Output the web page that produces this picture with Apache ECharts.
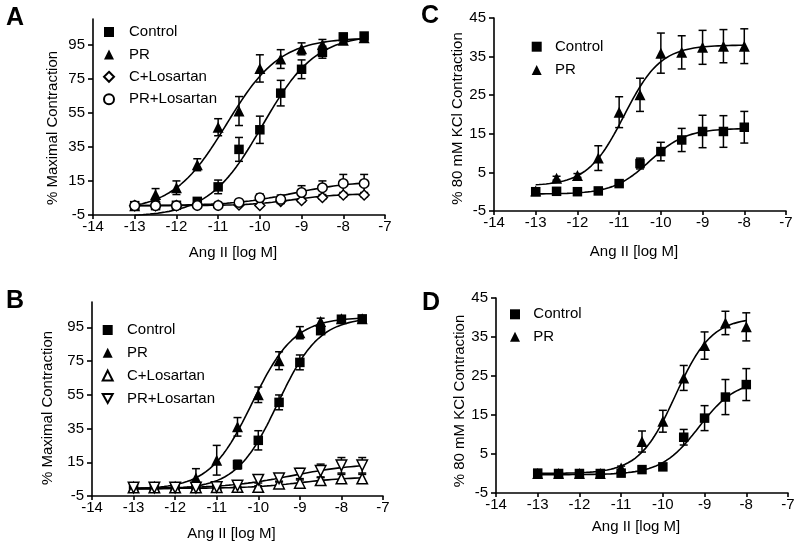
<!DOCTYPE html>
<html><head><meta charset="utf-8">
<script src="https://cdn.jsdelivr.net/npm/echarts@6/dist/echarts.min.js"></script>
<style>html,body{margin:0;padding:0;background:#fff}#c{width:800px;height:549px}</style>
</head><body><div id="c"></div>
<script>
// ---------- DATA ----------
const xAB = [-13,-12.5,-12,-11.5,-11,-10.5,-10,-9.5,-9,-8.5,-8,-7.5];
const xCD = [-13,-12.5,-12,-11.5,-11,-10.5,-10,-9.5,-9,-8.5,-8];
const xTicks = [-14,-13,-12,-11,-10,-9,-8,-7];
const yTicksAB = [-5,15,35,55,75,95];
const yTicksCD = [-5,5,15,25,35,45];

// Panel A
const A_control    = [0.5,0.5,0.7,3,11.5,33.5,45,66.5,80.5,90.5,99.5,100];
const A_controlErr = [0,0,0,1,4,7,8,7.5,5.5,3.5,2,0.5];
const A_pr         = [0.5,7,11,24.5,46.5,56,81,86.5,92.5,95,97.5,99];
const A_prErr      = [0,3.5,4,3.5,5,8.5,8,5.5,3.5,3,1.5,0.5];
const A_cLos       = [0.5,0.5,0.5,0.8,0.7,0.9,0.6,3,3.5,5.3,6.7,6.7];
const A_cLosErr    = [0,0,0,0,0,0,0.5,1,1,1,1,1];
const A_prLos      = [0.5,0.5,0.5,0.6,0.6,2.4,5.1,4.2,8.2,11,13.5,13.5];
const A_prLosErr   = [0,0,0,0,0,1,2.2,2.5,4,4,5.3,5.3];
// fitted curves [bottom, top, logEC50, hill]
const A_controlFit = [-6,101,-9.94,0.68];
const A_prFit      = [-2.5,99,-10.8,0.68];
const A_cLosFit    = [0.5,7.5,-9.2,0.8];
const A_prLosFit   = [0.5,15,-9.2,0.6];

// Panel B
const B_control    = [0,0,0,0,0.3,13.6,28,50.5,74.2,93,99.8,100];
const B_controlErr = [0,0,0,0,0.5,2.6,5.7,4.4,4.4,2,1,0.5];
const B_pr         = [0,0,0.2,5.7,16.2,36,55,75.2,91.8,98.4,100,100];
const B_prErr      = [0,0,0,5.5,8.8,5.5,4.6,5.3,3.6,2,1,0.5];
const B_cLos       = [0,0,0,0,0.2,0.3,0.3,2.3,2.7,4.3,5.3,5.3];
const B_cLosErr    = [0,0,0,0,0,0.5,0.8,1.5,1.8,2,2.5,2.5];
const B_prLos      = [0,0,0,0,0.3,1.2,4.7,5.5,8.3,9.9,13.2,13.2];
const B_prLosErr   = [0,0,0,0,0.5,1,2,2.2,3,4,4.6,4.6];
const B_controlFit = [-1,101,-9.53,0.87];
const B_prFit      = [-1,101,-10.15,0.85];
const B_cLosFit    = [-0.5,6.3,-9.0,0.7];
const B_prLosFit   = [-0.5,14.5,-9.2,0.55];

// Panel C
const C_control    = [0,0.1,0,0.2,2.1,7.3,10.4,13.4,15.6,15.6,16.7];
const C_controlErr = [0.3,0.3,0.3,0.3,0.5,1.4,2.4,3,4.2,4.1,4.1];
const C_pr         = [0.2,3.5,4.2,8.7,20.6,25.1,35.9,36.1,37.4,37.7,37.7];
const C_prErr      = [0,0.5,0.5,3.2,4,4.3,5.2,4.3,4.4,4.3,4.5];
const C_controlFit = [-0.6,16.4,-10.27,1.0];
const C_prFit      = [1.5,38,-10.88,0.99];

// Panel D
const D_control    = [0.1,0,0,0,0.1,1.0,1.7,9.3,14.2,19.6,22.8];
const D_controlErr = [0,0,0,0,0,0.3,0.5,2,3.2,4.5,4.1];
const D_pr         = [0,0,0,0,1.4,8.2,13.4,24.5,32.8,38.6,37.6];
const D_prErr      = [0,0,0,0,0.5,2.7,2.8,3.2,3.5,3,3.6];
const D_controlFit = [-0.3,24,-9.14,0.97];
const D_prFit      = [0,40,-9.7,1.0];

// ---------- STYLE / LAYOUT ----------
const FONT = 'Liberation Sans, Arial, Helvetica, sans-serif';
const downTri = 'path://M0,0L10,0L5,9Z';
const SYM = {
  filledSquare: {symbol:'rect', size:9.5, open:false},
  filledTri:    {symbol:'triangle', size:11, open:false},
  openDiamond:  {symbol:'diamond', size:10, open:true},
  openCircle:   {symbol:'circle', size:9.5, open:true},
  openTri:      {symbol:'triangle', size:10.5, open:true},
  openDownTri:  {symbol:downTri, size:10.5, open:true}
};

const panels = [
  {id:'A', x:xAB, yMax:110, yTicks:yTicksAB, yName:'% Maximal Contraction',
   grid:{left:93, top:19, width:292, height:196},
   yNameGap:33, yNamePad:22, xNameGap:30,
   legend:{left:103, top:24.5, gap:7.4, pad:10},
   letter:{x:6, y:18},
   sets:[
    {name:'Control', y:A_control, err:A_controlErr, fit:A_controlFit, sym:SYM.filledSquare},
    {name:'PR', y:A_pr, err:A_prErr, fit:A_prFit, sym:SYM.filledTri},
    {name:'C+Losartan', y:A_cLos, err:A_cLosErr, fit:A_cLosFit, sym:SYM.openDiamond},
    {name:'PR+Losartan', y:A_prLos, err:A_prLosErr, fit:A_prLosFit, sym:SYM.openCircle}
   ]},
  {id:'B', x:xAB, yMax:110, yTicks:yTicksAB, yName:'% Maximal Contraction',
   grid:{left:92, top:302, width:291, height:194},
   yNameGap:37, yNamePad:18, xNameGap:30,
   legend:{left:101.7, top:322.5, gap:7.8, pad:9.3},
   letter:{x:6, y:300.5},
   sets:[
    {name:'Control', y:B_control, err:B_controlErr, fit:B_controlFit, sym:SYM.filledSquare},
    {name:'PR', y:B_pr, err:B_prErr, fit:B_prFit, sym:SYM.filledTri},
    {name:'C+Losartan', y:B_cLos, err:B_cLosErr, fit:B_cLosFit, sym:SYM.openTri},
    {name:'PR+Losartan', y:B_prLos, err:B_prLosErr, fit:B_prLosFit, sym:SYM.openDownTri}
   ]},
  {id:'C', x:xCD, yMax:45, yTicks:yTicksCD, yName:'% 80 mM KCl Contraction',
   grid:{left:494, top:18, width:292, height:193},
   yNameGap:25, yNamePad:8, xNameGap:33,
   legend:{left:531.7, top:39.2, gap:8.3, pad:8.3},
   letter:{x:421, y:15.5},
   sets:[
    {name:'Control', y:C_control, err:C_controlErr, fit:C_controlFit, sym:SYM.filledSquare},
    {name:'PR', y:C_pr, err:C_prErr, fit:C_prFit, sym:SYM.filledTri}
   ]},
  {id:'D', x:xCD, yMax:45, yTicks:yTicksCD, yName:'% 80 mM KCl Contraction',
   grid:{left:496, top:298, width:292, height:195},
   yNameGap:27, yNamePad:11, xNameGap:26,
   legend:{left:510, top:306.8, gap:7.4, pad:8.3},
   letter:{x:422, y:302.5},
   sets:[
    {name:'Control', y:D_control, err:D_controlErr, fit:D_controlFit, sym:SYM.filledSquare},
    {name:'PR', y:D_pr, err:D_prErr, fit:D_prFit, sym:SYM.filledTri}
   ]}
];

function fitCurve(p, x0, x1){
  const [b,t,e,h] = p, pts = [], N = 120;
  for (let i=0;i<=N;i++){
    const x = x0 + (x1-x0)*i/N;
    pts.push([x, b + (t-b)/(1+Math.pow(10,(e-x)*h))]);
  }
  return pts;
}

function renderErr(params, api){
  const x = api.value(0), y = api.value(1), e = api.value(2);
  if (!e) return null;
  const top = api.coord([x, y+e]), bot = api.coord([x, y-e]);
  const hw = 4, st = {stroke:'#000', lineWidth:1.5};
  return {type:'group', children:[
    {type:'line', shape:{x1:top[0],y1:top[1],x2:bot[0],y2:bot[1]}, style:st},
    {type:'line', shape:{x1:top[0]-hw,y1:top[1],x2:top[0]+hw,y2:top[1]}, style:st},
    {type:'line', shape:{x1:bot[0]-hw,y1:bot[1],x2:bot[0]+hw,y2:bot[1]}, style:st}
  ]};
}

const grid=[], xAxis=[], yAxis=[], series=[], legend=[], graphic=[];
panels.forEach((p,i)=>{
  grid.push(Object.assign({containLabel:false}, p.grid));
  const axisLine = {show:true, onZero:false, lineStyle:{color:'#000', width:1.6}};
  xAxis.push({type:'value', gridIndex:i, min:-14, max:-7, interval:1,
    axisLine, axisTick:{show:true, length:4, lineStyle:{color:'#000', width:1.6}},
    axisLabel:{color:'#000', fontSize:15, fontFamily:FONT, margin:4, customValues:xTicks},
    splitLine:{show:false},
    name:'Ang II [log M]', nameLocation:'middle', nameGap:p.xNameGap,
    nameTextStyle:{color:'#000', fontSize:15, fontFamily:FONT, padding:[0,12,0,0]}});
  yAxis.push({type:'value', gridIndex:i, min:-5, max:p.yMax, interval:10,
    axisLine, axisTick:{show:true, length:5, customValues:p.yTicks, lineStyle:{color:'#000', width:1.6}},
    axisLabel:{color:'#000', fontSize:15, fontFamily:FONT, margin:8, customValues:p.yTicks},
    splitLine:{show:false},
    name:p.yName, nameLocation:'middle', nameGap:p.yNameGap,
    nameTextStyle:{color:'#000', fontSize:15, fontFamily:FONT, padding:[0,p.yNamePad,0,0]}});
  const legendNames = [];
  p.sets.forEach(s=>{
    const nm = p.id + '|' + s.name;
    legendNames.push(nm);
    const x0 = p.x[0], x1 = p.x[p.x.length-1];
    series.push({type:'line', name:nm+' fit', xAxisIndex:i, yAxisIndex:i, z:2,
      data:fitCurve(s.fit, x0, x1), showSymbol:false, symbol:'none', clip:true,
      lineStyle:{color:'#000', width:1.6}, silent:true});
    series.push({type:'custom', name:nm+' err', xAxisIndex:i, yAxisIndex:i, z:3,
      renderItem:renderErr, clip:true, encode:{x:0,y:1},
      data:p.x.map((xv,k)=>[xv, s.y[k], s.err[k]]), silent:true});
    series.push({type:'scatter', name:nm, xAxisIndex:i, yAxisIndex:i, z:4,
      symbol:s.sym.symbol, symbolSize:s.sym.size,
      itemStyle: s.sym.open ? {color:'#fff', borderColor:'#000', borderWidth:1.5, opacity:1}
                            : {color:'#000', borderWidth:0, opacity:1},
      data:p.x.map((xv,k)=>[xv, s.y[k]]), silent:true});
  });
  legend.push({data:legendNames, orient:'vertical', left:p.legend.left, top:p.legend.top,
    itemWidth:10, itemHeight:10, itemGap:p.legend.gap, selectedMode:false, padding:0,
    formatter:n=>n.split('|')[1],
    textStyle:{color:'#000', fontSize:15, fontFamily:FONT, lineHeight:15, padding:[0,0,0,p.legend.pad]}});
  graphic.push({type:'text', left:p.letter.x, top:p.letter.y-12,
    style:{text:p.id, fill:'#000', font:'bold 25px '+FONT}});
});

const chart = echarts.init(document.getElementById('c'), null, {renderer:'canvas'});
chart.setOption({backgroundColor:'#fff', animation:false, grid, xAxis, yAxis, series, legend, graphic});
</script></body></html>
